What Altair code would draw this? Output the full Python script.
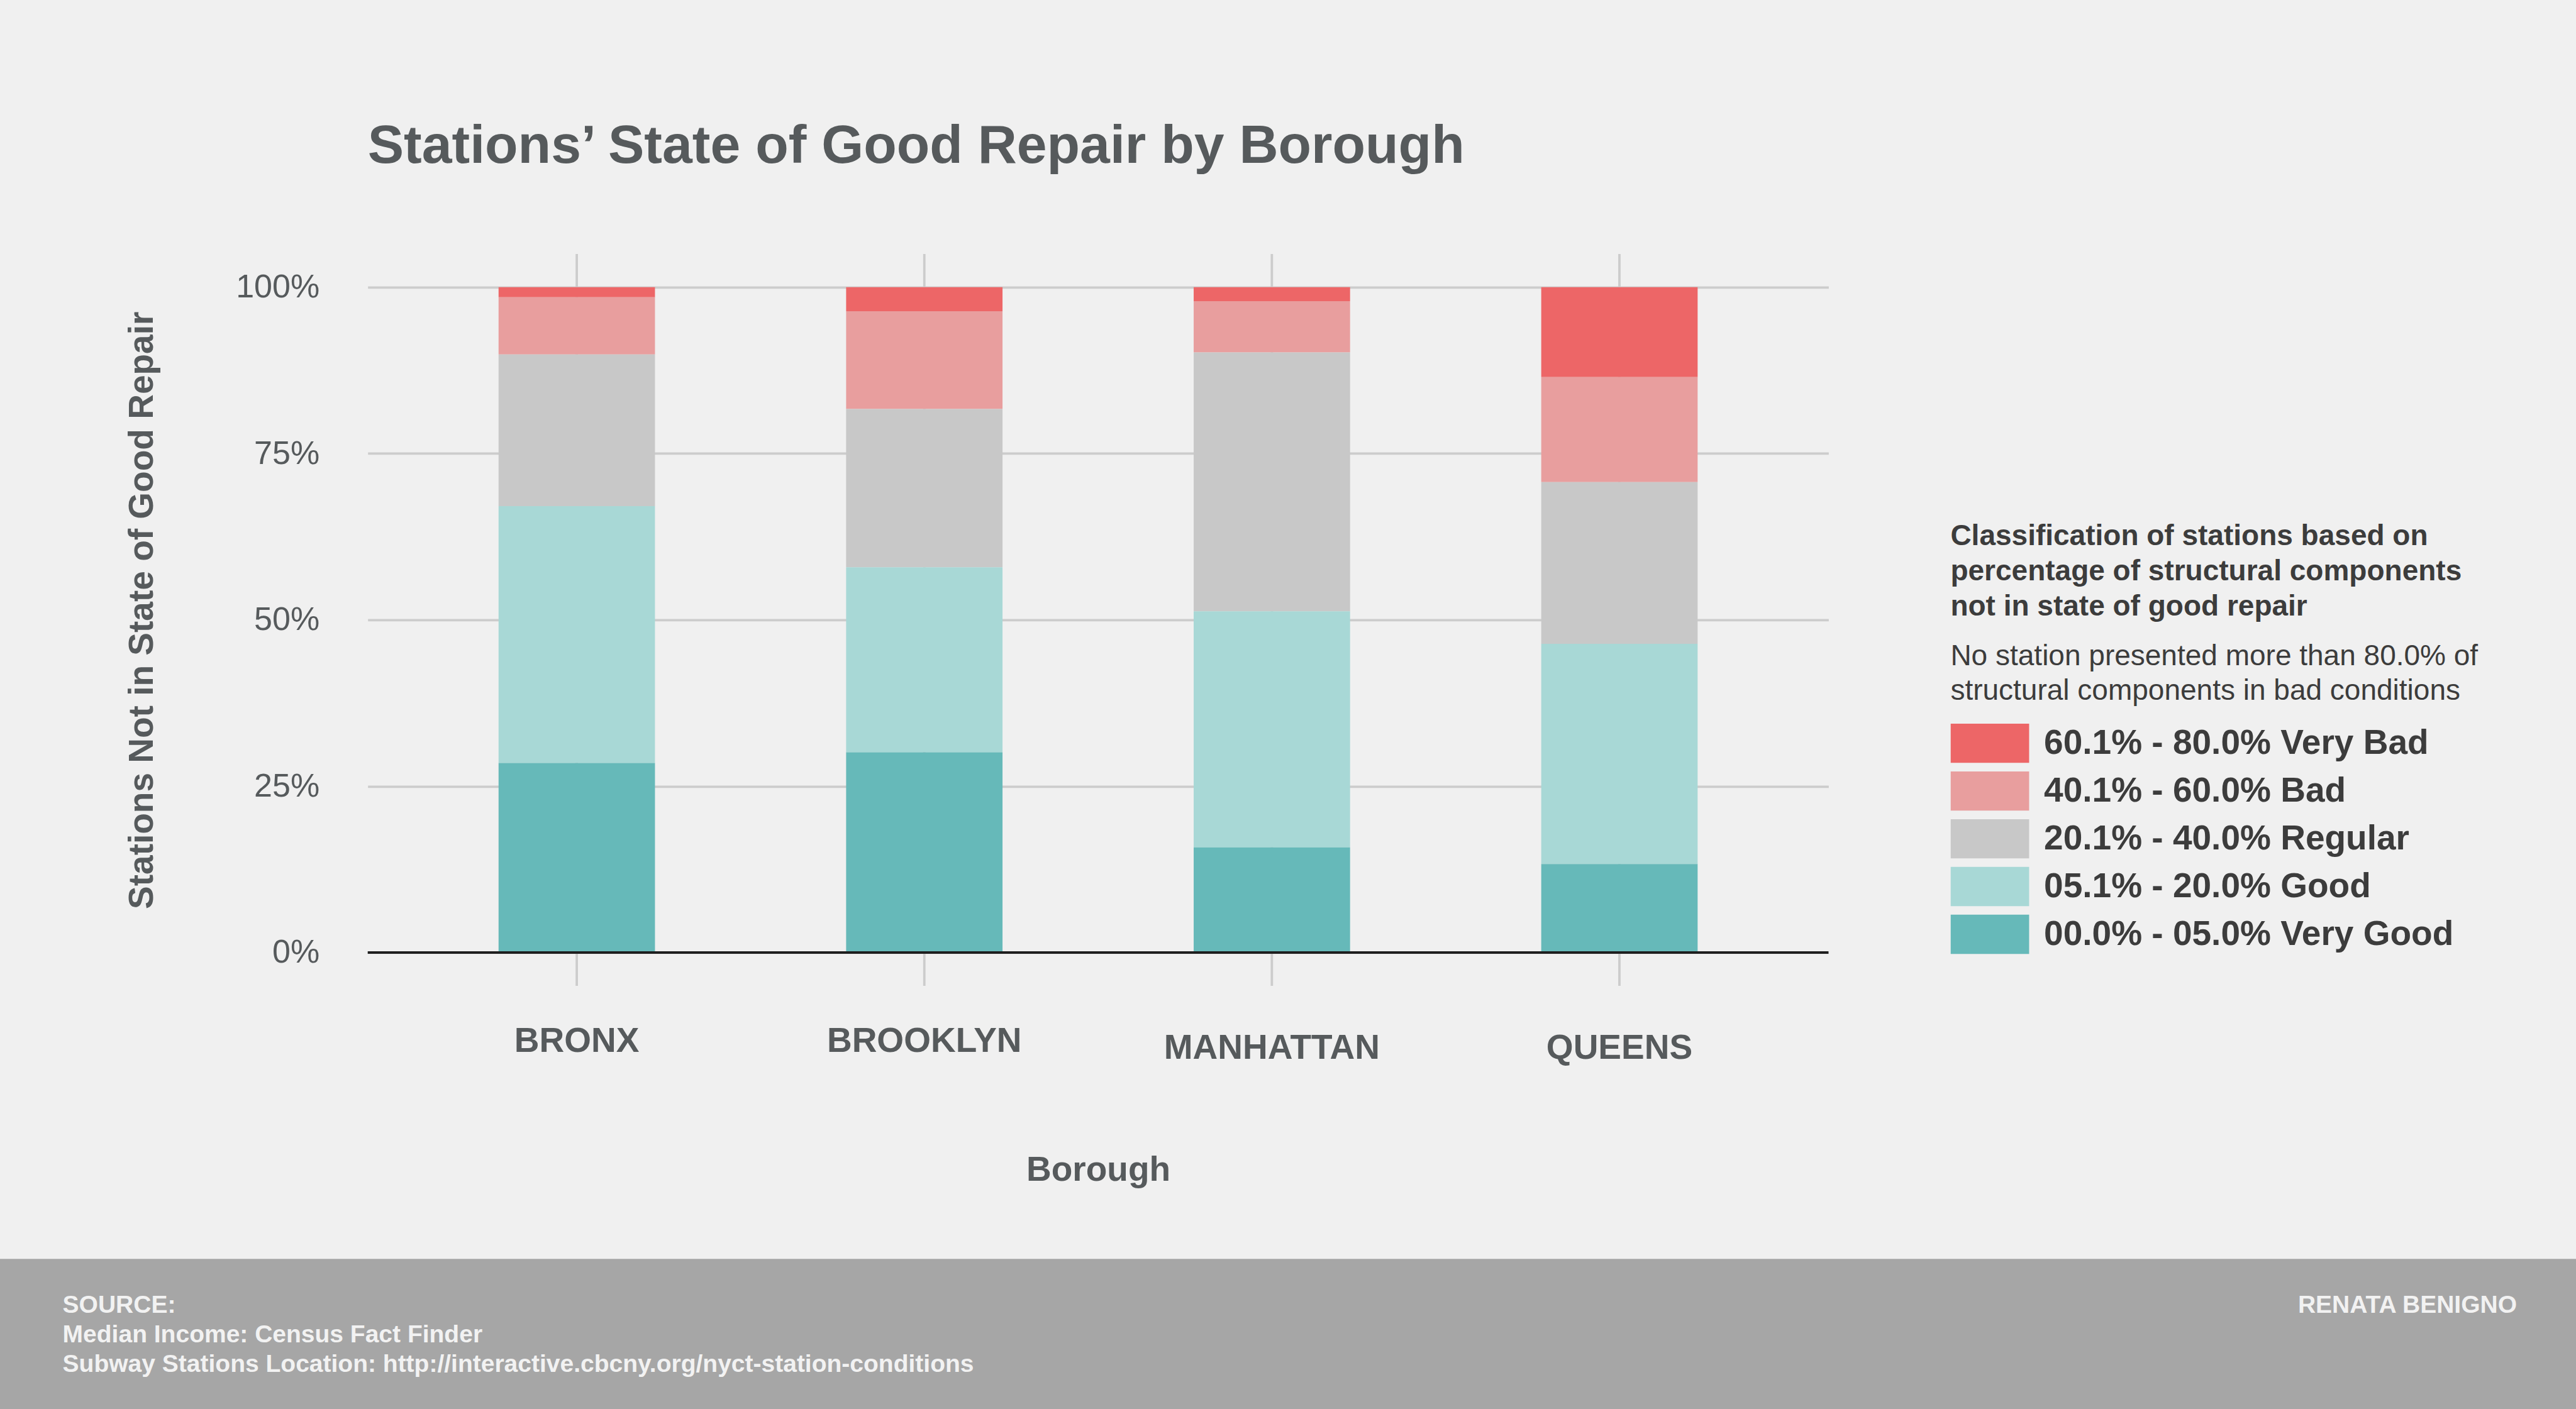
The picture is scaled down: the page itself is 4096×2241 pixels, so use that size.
import altair as alt
import pandas as pd

# ---------------- data ----------------
boroughs = ["BRONX", "BROOKLYN", "MANHATTAN", "QUEENS"]
categories = [
    "60.1% - 80.0% Very Bad",
    "40.1% - 60.0% Bad",
    "20.1% - 40.0% Regular",
    "05.1% - 20.0% Good",
    "00.0% - 05.0% Very Good",
]
colors = ["#ed6667", "#e89e9e", "#c8c8c8", "#a8d8d6", "#66b9b9"]

# share of stations (percent) per borough
very_bad = [1.5, 3.6, 2.1, 13.5]
bad = [8.6, 14.7, 7.7, 15.8]
regular = [22.8, 23.8, 38.9, 24.3]
good = [38.6, 27.8, 35.5, 33.1]
very_good = [28.5, 30.1, 15.8, 13.3]

y_ticks = [0, 0.25, 0.5, 0.75, 1]
chart_title = "Stations\u2019 State of Good Repair by Borough"
legend_title = [
    "Classification of stations based on",
    "percentage of structural components",
    "not in state of good repair",
]
legend_note = [
    "No station presented more than 80.0% of",
    "structural components in bad conditions",
]
source_lines = [
    "SOURCE:",
    "Median Income: Census Fact Finder",
    "Subway Stations Location: http://interactive.cbcny.org/nyct-station-conditions",
]
author = "RENATA BENIGNO"

series = [very_bad, bad, regular, good, very_good]
rows = []
for ci, (cat, vals) in enumerate(zip(categories, series)):
    for b, v in zip(boroughs, vals):
        rows.append({"borough": b, "category": cat, "pct": v,
                     "stack_rank": len(categories) - ci})
df = pd.DataFrame(rows)
one = pd.DataFrame({"k": [0]})

# ---------------- layout ----------------
TOTAL_W, TOTAL_H = 4096, 2241
PL, PT = 584.7, 403.9
W, H = 2322.7, 1164.0
PR = TOTAL_W - PL - W
PB = TOTAL_H - PT - H

FONT = "Liberation Sans"
TXT = "#565a5c"
LEG_TXT = "#3c3c3c"
GRID = "#cccccc"

xscale = alt.Scale(domain=boroughs, paddingInner=0.55, paddingOuter=0.3765)
yscale = alt.Scale(domain=[-0.05, 1.05], nice=False, zero=False)

xaxis = alt.Axis(
    title="Borough", labelAngle=0, domain=False, ticks=False, grid=False,
    labelFont=FONT, labelFontSize=55, labelFontWeight="bold", labelColor=TXT,
    labelLimit=2000,
    labelPadding={"condition": {"test": "datum.value === 'MANHATTAN' || datum.value === 'QUEENS'",
                                "value": 73}, "value": 62},
    titleFont=FONT, titleFontSize=55, titleFontWeight="bold", titleColor=TXT,
    titleX=W / 2, titleY=310, titleBaseline="alphabetic", titleAlign="center",
)
yaxis = alt.Axis(
    title="Stations Not in State of Good Repair", values=y_ticks, format=".0%",
    domain=False, ticks=False, grid=True, gridColor=GRID, gridWidth=3.8,
    labelFont=FONT, labelFontSize=52, labelColor=TXT, labelPadding=77,
    labelLimit=2000,
    titleFont=FONT, titleFontSize=55, titleFontWeight="bold", titleColor=TXT,
    titleAngle=270, titleX=-341.8, titleY=566.4, titleBaseline="alphabetic",
    titleAlign="center", titleLimit=3000,
)

base = alt.Chart(df)

vrules = alt.Chart(pd.DataFrame({"borough": boroughs})).mark_rule(
    color=GRID, strokeWidth=3.8
).encode(
    x=alt.X("borough:N", scale=xscale, axis=xaxis),
    y=alt.YDatum(-0.05, type="quantitative", scale=yscale, axis=yaxis),
    y2=alt.Y2Datum(1.05),
)

bars = base.transform_calculate(frac="datum.pct / 100").mark_bar().encode(
    x=alt.X("borough:N", scale=xscale, axis=xaxis),
    y=alt.Y("frac:Q", stack="normalize", scale=yscale, axis=yaxis),
    color=alt.Color(
        "category:N",
        scale=alt.Scale(domain=categories, range=colors),
        legend=alt.Legend(
            title=legend_title, orient="none",
            legendX=3101.4 - PL, legendY=426.8,
            direction="vertical", padding=0,
            symbolType="M-1,-1H3V1H-1Z", symbolSize=3887.5,
            symbolStrokeWidth=0, symbolOpacity=1,
            labelOffset=85.7, labelFont=FONT, labelFontSize=55,
            labelFontWeight="bold", labelColor=LEG_TXT, labelLimit=2000,
            labelBaseline="middle", rowPadding=12.95,
            titleFont=FONT, titleFontSize=46, titleFontWeight="bold",
            titleColor=LEG_TXT, titleLineHeight=56, titlePadding=162,
            titleLimit=3000, titleBaseline="top",
        ),
    ),
    order=alt.Order("stack_rank:Q", sort="ascending"),
)

zero_rule = alt.Chart(one).mark_rule(color="#1f1f1f", strokeWidth=4.2).encode(
    y=alt.YDatum(0, type="quantitative", scale=yscale, axis=yaxis),
)

note = alt.Chart(one).mark_text(
    text=legend_note, align="left", baseline="alphabetic", font=FONT,
    fontSize=46, color=LEG_TXT, lineHeight=55,
).encode(x=alt.value(3101.4 - PL), y=alt.value(1058 - PT))

footer_bg = alt.Chart(one).mark_rect(color="#a6a6a6").encode(
    x=alt.value(-PL), x2=alt.value(TOTAL_W - PL),
    y=alt.value(2002.2 - PT), y2=alt.value(TOTAL_H - PT),
)
footer_src = alt.Chart(one).mark_text(
    text=source_lines, align="left", baseline="alphabetic", font=FONT,
    fontSize=39, fontWeight="bold", color="#f2f2f2", lineHeight=47,
).encode(x=alt.value(99.6 - PL), y=alt.value(2088.4 - PT))
footer_author = alt.Chart(one).mark_text(
    text=author, align="right", baseline="alphabetic", font=FONT,
    fontSize=39, fontWeight="bold", color="#f2f2f2",
).encode(x=alt.value(4002 - PL), y=alt.value(2088.4 - PT))

chart = alt.layer(
    vrules, bars, zero_rule, note, footer_bg, footer_src, footer_author
).properties(
    width=W, height=H,
    padding={"left": PL, "top": PT, "right": PR, "bottom": PB},
    autosize=alt.AutoSizeParams(type="none"),
    title=alt.Title(
        chart_title, anchor="start", frame="group", font=FONT, fontSize=86,
        fontWeight="bold", color=TXT, baseline="alphabetic", offset=57.3,
    ),
).configure(background="#f0f0f0").configure_view(strokeWidth=0)

chart.save("out.html", embed_options={"renderer": "svg", "actions": False})
